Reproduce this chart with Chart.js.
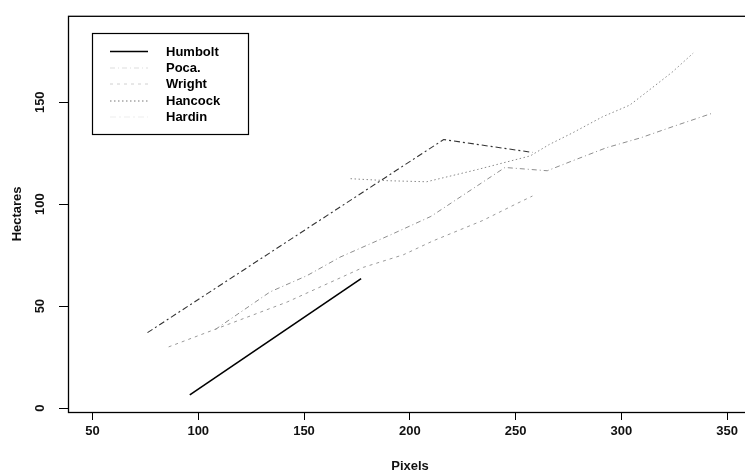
<!DOCTYPE html>
<html><head><meta charset="utf-8">
<script src="https://cdn.jsdelivr.net/npm/chart.js@4/dist/chart.umd.min.js"></script>
<style>
html,body{margin:0;padding:0;background:#fff;overflow:hidden;width:745px;height:476px}
#wrap{position:relative;width:760px;height:476px}
canvas{display:block}
</style>
</head><body><div id="wrap"><canvas id="c" width="760" height="476" style="width:760px;height:476px"></canvas></div>
<script>
// ---- data ----
const seriesNames = ['Humbolt', 'Poca.', 'Wright', 'Hancock', 'Hardin'];

const humboltX = [96, 177];
const humboltY = [6.5, 63.5];

const pocaX = [108, 134, 151.5, 167, 191, 210, 245, 265, 277, 293, 309, 324.5, 343];
const pocaY = [38.5, 57, 65, 74, 85, 94, 118, 116.4, 121.3, 127.7, 132.5, 138.1, 144.6];

const wrightX = [86, 142, 178, 197, 211, 234.5, 250.6, 258];
const wrightY = [30, 52, 69, 75.2, 82, 92, 100.3, 104];

const hancockX = [172, 190, 208, 232, 257, 266, 277, 291, 304, 313, 324, 334];
const hancockY = [112.5, 111.5, 111, 117, 123.7, 129.3, 135, 142.8, 148.6, 155.8, 164.7, 174.1];

const hardinX = [76, 216, 258];
const hardinY = [37, 131.7, 125.4];

const xTickValues = [50, 100, 150, 200, 250, 300, 350];
const yTickValues = [0, 50, 100, 150];
const xTitle = 'Pixels';
const yTitle = 'Hectares';

// ---- build ----
const pts = (xs, ys) => xs.map((x, i) => ({x: x, y: ys[i]}));
const styles = [
  {color: '#000000', dash: [], width: 1.6},
  {color: '#8e8e8e', dash: [5, 3, 1, 3], width: 1},
  {color: '#9a9a9a', dash: [3, 4], width: 1},
  {color: '#8a8a8a', dash: [1.5, 2.5], width: 1},
  {color: '#333333', dash: [6, 3, 2, 3], width: 1.1}
];
const allX = [humboltX, pocaX, wrightX, hancockX, hardinX];
const allY = [humboltY, pocaY, wrightY, hancockY, hardinY];
const legendSampleColors = ['#000000', '#dddddd', '#d0d0d0', '#777777', '#eeeeee'];

const datasets = seriesNames.map((n, i) => ({
  label: n,
  data: pts(allX[i], allY[i]),
  showLine: true,
  borderColor: styles[i].color,
  borderWidth: styles[i].width,
  borderDash: styles[i].dash,
  pointRadius: 0,
  fill: false,
  tension: 0
}));

const FONT = 'Liberation Sans, Arial, sans-serif';

const boxPlugin = {
  id: 'box',
  afterDraw(chart) {
    const {ctx, chartArea: a} = chart;
    ctx.save();
    ctx.strokeStyle = '#000';
    ctx.lineWidth = 1.3;
    ctx.strokeRect(a.left + 0.5, a.top + 0.5, a.right - a.left, a.bottom - a.top);
    // legend
    const lx = 92, ly = 33, lw = 156, lh = 101;
    ctx.fillStyle = '#fff';
    ctx.fillRect(lx, ly, lw, lh);
    ctx.lineWidth = 1.2;
    ctx.strokeRect(lx + 0.5, ly + 0.5, lw, lh);
    const rows = [51.5, 68, 84, 101, 117];
    ctx.font = 'bold 13px ' + FONT;
    ctx.textBaseline = 'middle';
    ctx.textAlign = 'left';
    seriesNames.forEach((n, i) => {
      const y = rows[i];
      ctx.beginPath();
      ctx.setLineDash(styles[i].dash);
      ctx.strokeStyle = legendSampleColors[i];
      ctx.lineWidth = styles[i].width;
      ctx.moveTo(110, y);
      ctx.lineTo(148, y);
      ctx.stroke();
      ctx.setLineDash([]);
      ctx.fillStyle = '#000';
      ctx.fillText(n, 166, y + 0.5);
    });
    ctx.restore();
  }
};

new Chart(document.getElementById('c'), {
  type: 'scatter',
  data: {datasets},
  plugins: [boxPlugin],
  options: {
    responsive: false,
    animation: false,
    devicePixelRatio: 1,
    layout: {padding: {top: 9, right: 8, left: 0, bottom: 0}},
    plugins: {legend: {display: false}, tooltip: {enabled: false}},
    scales: {
      x: {
        type: 'linear',
        min: 38.42, max: 361.8,
        afterBuildTicks: s => { s.ticks = xTickValues.map(v => ({value: v})); },
        afterFit: s => { s.height = 64; },
        ticks: {font: {family: FONT, size: 13, weight: 'bold'}, color: '#111', padding: 4, maxRotation: 0, autoSkip: false},
        grid: {display: true, drawOnChartArea: false, drawTicks: true, tickLength: 8, color: '#000', lineWidth: 1},
        border: {display: false},
        title: {display: true, text: xTitle, font: {family: FONT, size: 13, weight: 'bold'}, color: '#111', padding: {top: 0, bottom: 2}}
      },
      y: {
        type: 'linear',
        min: -1.93, max: 192.4,
        afterBuildTicks: s => { s.ticks = yTickValues.map(v => ({value: v})); },
        afterFit: s => { s.width = 68; },
        ticks: {font: {family: FONT, size: 13, weight: 'bold'}, color: '#111', padding: 8, minRotation: 90, maxRotation: 90, crossAlign: 'center', autoSkip: false},
        grid: {display: true, drawOnChartArea: false, drawTicks: true, tickLength: 9, color: '#000', lineWidth: 1},
        border: {display: false},
        title: {display: true, text: yTitle, font: {family: FONT, size: 13, weight: 'bold'}, color: '#111', padding: {top: 10, bottom: 0}}
      }
    }
  }
});
</script>
</body></html>
